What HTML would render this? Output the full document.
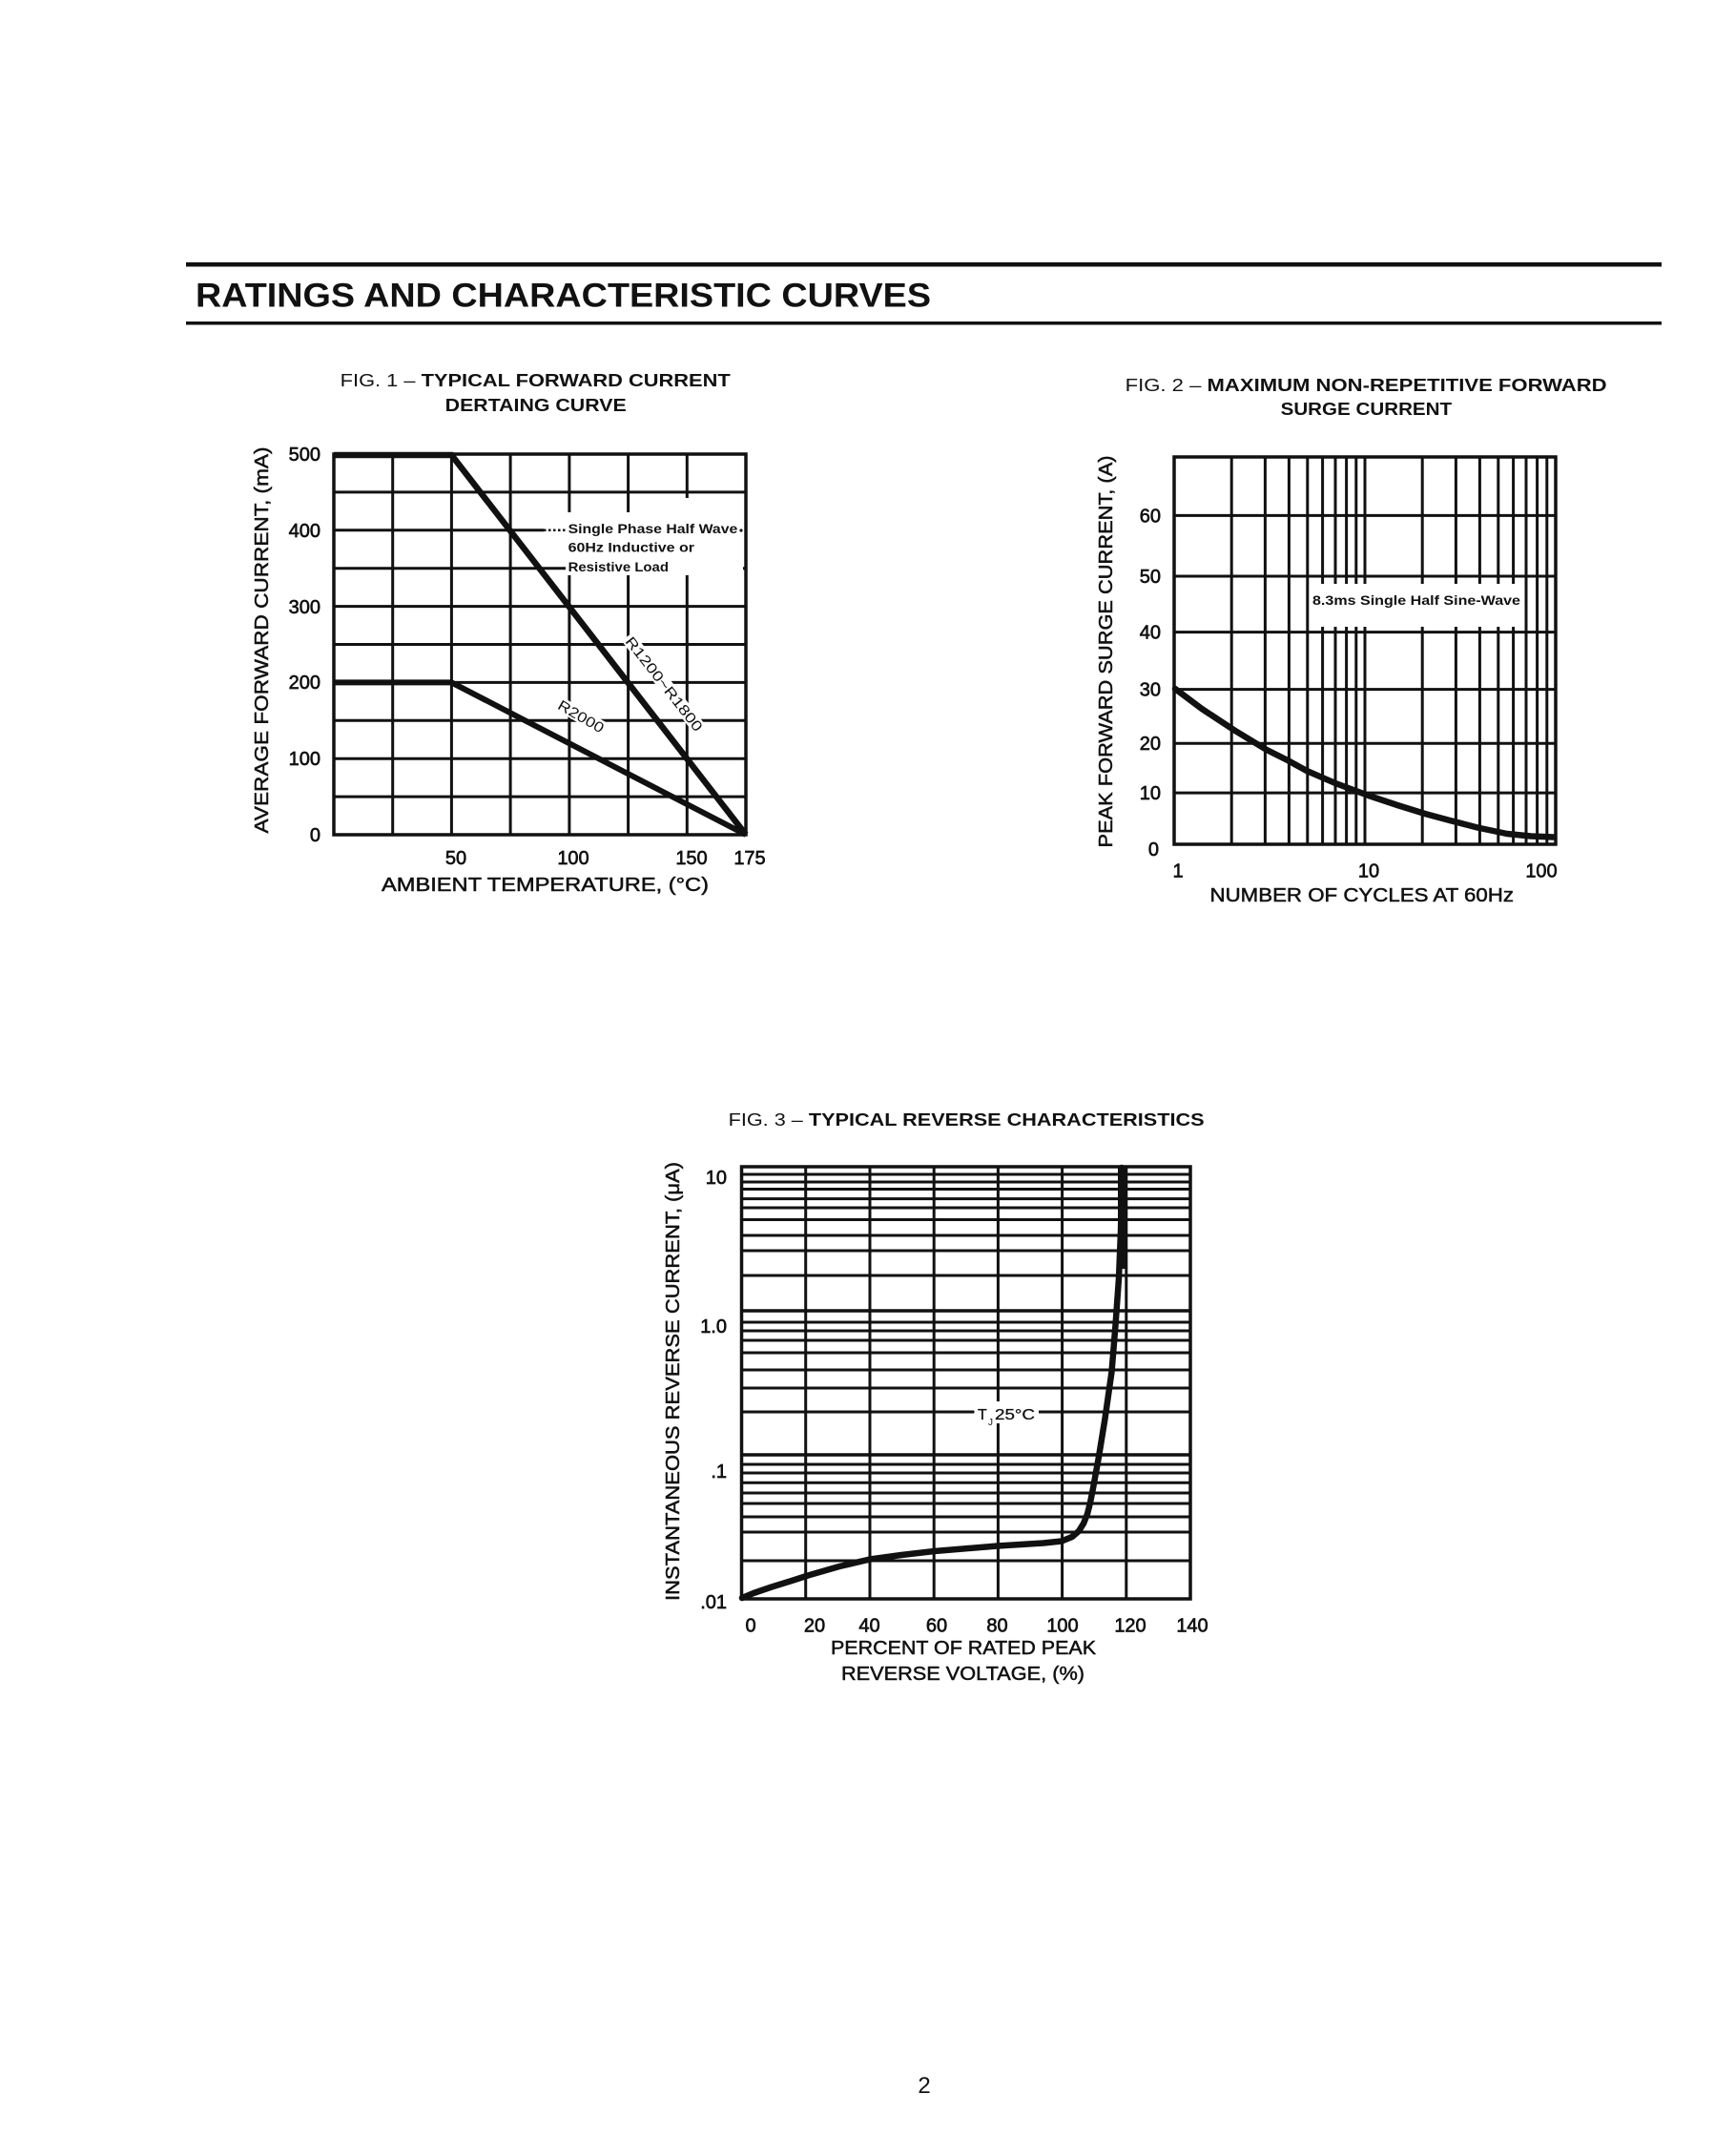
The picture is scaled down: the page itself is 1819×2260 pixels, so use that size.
<!DOCTYPE html>
<html>
<head>
<meta charset="utf-8">
<style>
  html, body { margin: 0; padding: 0; background: #fff; }
  svg { display: block; }
  text { font-family: "Liberation Sans", Arial, sans-serif; fill: #111; }
  .tk { font-size: 20px; stroke: #111; stroke-width: 0.65; }
  .ax { font-size: 20px; stroke: #111; stroke-width: 0.5; }
  .ti { font-size: 18px; }
  .lg { font-size: 14px; font-weight: bold; }
</style>
</head>
<body>
<svg xmlns="http://www.w3.org/2000/svg" width="1819" height="2260" viewBox="0 0 1819 2260">
  <rect x="0" y="0" width="1819" height="2260" fill="#fff"/>

  <!-- Header -->
  <rect x="195" y="275" width="1547" height="4.5" fill="#111"/>
  <rect x="195" y="337" width="1547" height="3.5" fill="#111"/>
  <text x="205" y="321.7" font-size="35" font-weight="bold" textLength="771" lengthAdjust="spacingAndGlyphs">RATINGS AND CHARACTERISTIC CURVES</text>

  <!-- ================= FIG 1 ================= -->
  <text class="ti" x="356.7" y="405" textLength="409" lengthAdjust="spacingAndGlyphs"><tspan>FIG. 1 – </tspan><tspan font-weight="bold">TYPICAL FORWARD CURRENT</tspan></text>
  <text class="ti" x="466.7" y="431" font-weight="bold" textLength="190" lengthAdjust="spacingAndGlyphs">DERTAING CURVE</text>

  <g stroke="#111" stroke-width="3" fill="none">
    <path d="M411.7 476V875M473.4 476V875M535.1 476V875M596.9 476V875M658.6 476V875M720.3 476V875"/>
    <path d="M350 515.9H782M350 595.7H782M350 635.6H782M350 675.5H782M350 715.4H782M350 755.3H782M350 795.2H782M350 835.1H782"/>
    <path d="M350 555.8H570"/>
    <path d="M570 555.8H593" stroke-dasharray="2.5 2.5" stroke-width="2.5"/>
    <rect x="350" y="476" width="432" height="399" stroke-width="3.5"/>
  </g>
  <!-- legend white area -->
  <rect x="593" y="537" width="186" height="66" fill="#fff"/>
  <rect x="715" y="522" width="10" height="16" fill="#fff"/>
  <text class="lg" x="595.6" y="559" textLength="177.7" lengthAdjust="spacingAndGlyphs">Single Phase Half Wave</text>
  <text class="lg" x="595.6" y="578.5" textLength="132.4" lengthAdjust="spacingAndGlyphs">60Hz Inductive or</text>
  <text class="lg" x="595.6" y="599" textLength="105.4" lengthAdjust="spacingAndGlyphs">Resistive Load</text>
  <circle cx="777" cy="556" r="1.6" fill="#111"/>

  <!-- data lines -->
  <g stroke="#111" fill="none" stroke-linejoin="miter">
    <path d="M350 477H473.4L782 875" stroke-width="6.5"/>
    <path d="M350 715.4H473.4L782 875" stroke-width="6"/>
  </g>

  <!-- curve labels -->
  <g transform="translate(693.7,719) rotate(52)">
    <rect x="-63" y="-11" width="126" height="15" fill="#fff"/>
    <text x="0" y="2" text-anchor="middle" font-size="15" textLength="121" lengthAdjust="spacingAndGlyphs">R1200~R1800</text>
  </g>
  <g transform="translate(607.6,753.8) rotate(30)">
    <rect x="-29" y="-11" width="58" height="15" fill="#fff"/>
    <text x="0" y="2" text-anchor="middle" font-size="15" textLength="53" lengthAdjust="spacingAndGlyphs">R2000</text>
  </g>

  <!-- y ticks -->
  <g class="tk" text-anchor="end">
    <text x="336" y="483">500</text>
    <text x="336" y="563">400</text>
    <text x="336" y="643">300</text>
    <text x="336" y="722">200</text>
    <text x="336" y="802">100</text>
    <text x="336" y="882">0</text>
  </g>
  <!-- x ticks -->
  <g class="tk" text-anchor="middle">
    <text x="478" y="906">50</text>
    <text x="601" y="906">100</text>
    <text x="725" y="906">150</text>
    <text x="786" y="906">175</text>
  </g>
  <text class="ax" x="400" y="934" textLength="343" lengthAdjust="spacingAndGlyphs">AMBIENT TEMPERATURE, (°C)</text>
  <g transform="translate(274,671) rotate(-90)">
    <text class="ax" x="0" y="7" text-anchor="middle" textLength="405" lengthAdjust="spacingAndGlyphs">AVERAGE FORWARD CURRENT, (mA)</text>
  </g>

  <!-- ================= FIG 2 ================= -->
  <text class="ti" x="1179.6" y="410" textLength="505" lengthAdjust="spacingAndGlyphs"><tspan>FIG. 2 – </tspan><tspan font-weight="bold">MAXIMUM NON-REPETITIVE FORWARD</tspan></text>
  <text class="ti" x="1342.6" y="435" font-weight="bold" textLength="179.5" lengthAdjust="spacingAndGlyphs">SURGE CURRENT</text>

  <g stroke="#111" stroke-width="3" fill="none">
    <path d="M1291.2 479V885M1326.4 479V885M1351.4 479V885M1370.8 479V885M1386.6 479V885M1400 479V885M1411.6 479V885M1421.8 479V885M1431 479V885M1491.2 479V885M1526.4 479V885M1551.4 479V885M1570.8 479V885M1586.6 479V885M1600 479V885M1611.6 479V885M1621.8 479V885"/>
    <path d="M1231 540.4H1631M1231 604H1631M1231 662.6H1631M1231 722.6H1631M1231 779.3H1631M1231 831.1H1631"/>
    <rect x="1231" y="479" width="400" height="406" stroke-width="3.5"/>
  </g>
  <rect x="1373" y="612" width="224" height="45" fill="#fff"/>
  <text class="lg" x="1376" y="634" textLength="218" lengthAdjust="spacingAndGlyphs">8.3ms Single Half Sine-Wave</text>

  <polyline fill="none" stroke="#111" stroke-width="6.5" stroke-linejoin="round" stroke-linecap="round"
    points="1232,722 1260,743 1295,766 1328,786 1350,797 1370,808 1400,821 1435,834 1465,844 1494,853 1520,860 1549,867.5 1580,874 1605,876.5 1629,877.5"/>

  <g class="tk" text-anchor="end">
    <text x="1217" y="547.5">60</text>
    <text x="1217" y="611">50</text>
    <text x="1217" y="669.5">40</text>
    <text x="1217" y="729.5">30</text>
    <text x="1217" y="786">20</text>
    <text x="1217" y="838">10</text>
    <text x="1215" y="897">0</text>
  </g>
  <g class="tk" text-anchor="middle">
    <text x="1235" y="919.5">1</text>
    <text x="1435" y="919.5">10</text>
    <text x="1616" y="919.5">100</text>
  </g>
  <text class="ax" x="1268.5" y="945" textLength="318.5" lengthAdjust="spacingAndGlyphs">NUMBER OF CYCLES AT 60Hz</text>
  <g transform="translate(1159,683) rotate(-90)">
    <text class="ax" x="0" y="7" text-anchor="middle" textLength="411" lengthAdjust="spacingAndGlyphs">PEAK FORWARD SURGE CURRENT, (A)</text>
  </g>

  <!-- ================= FIG 3 ================= -->
  <text class="ti" x="763.6" y="1180" textLength="499" lengthAdjust="spacingAndGlyphs"><tspan>FIG. 3 – </tspan><tspan font-weight="bold">TYPICAL REVERSE CHARACTERISTICS</tspan></text>

  <g stroke="#111" stroke-width="3" fill="none">
    <path d="M844.7 1223V1676M912 1223V1676M979.2 1223V1676M1046.4 1223V1676M1113.6 1223V1676M1180.8 1223V1676"/>
    <path d="M777.5 1231H1248M777.5 1239H1248M777.5 1246.5H1248M777.5 1256.6H1248M777.5 1266H1248M777.5 1278.5H1248M777.5 1295H1248M777.5 1311H1248M777.5 1337H1248"/>
    <path d="M777.5 1374H1248" stroke-width="3.5"/>
    <path d="M777.5 1386H1248M777.5 1395H1248M777.5 1405H1248M777.5 1418H1248M777.5 1436H1248M777.5 1455H1248M777.5 1480H1248"/>
    <path d="M777.5 1525H1248" stroke-width="3.5"/>
    <path d="M777.5 1535H1248M777.5 1544H1248M777.5 1554.3H1248M777.5 1565H1248M777.5 1576H1248M777.5 1590H1248M777.5 1606H1248M777.5 1636H1248"/>
    <rect x="777.5" y="1223" width="470.5" height="453" stroke-width="3.5"/>
  </g>
  <rect x="1021" y="1469" width="68" height="23" fill="#fff"/>
  <circle cx="1020" cy="1480" r="1.6" fill="#111"/>
  <text x="1025" y="1488" font-size="16" stroke="#111" stroke-width="0.3">T</text>
  <text x="1036" y="1494" font-size="10">J</text>
  <text x="1043" y="1488" font-size="16" stroke="#111" stroke-width="0.3" textLength="42" lengthAdjust="spacingAndGlyphs">25°C</text>

  <polyline fill="none" stroke="#111" stroke-width="6.5" stroke-linejoin="round" stroke-linecap="round"
    points="778,1675 790,1670 809,1663.5 830,1657 847,1651.5 880,1642 912,1634.5 945,1630 979.5,1626 1046,1620.5 1094,1617.5 1113,1615.5 1124,1611 1131,1605 1136,1597 1140,1587 1143,1575 1146,1560 1152,1527 1158.5,1487 1165.5,1438 1169.5,1389 1173,1340 1175,1291 1176,1250 1176,1224"/>
  <path d="M1176 1224V1330" stroke="#111" stroke-width="8" fill="none"/>

  <g class="tk" text-anchor="end">
    <text x="762" y="1241">10</text>
    <text x="762" y="1397">1.0</text>
    <text x="762" y="1549">.1</text>
    <text x="762" y="1686">.01</text>
  </g>
  <g class="tk" text-anchor="middle">
    <text x="787" y="1710.5">0</text>
    <text x="854" y="1710.5">20</text>
    <text x="911.5" y="1710.5">40</text>
    <text x="982" y="1710.5">60</text>
    <text x="1045.5" y="1710.5">80</text>
    <text x="1114" y="1710.5">100</text>
    <text x="1185" y="1710.5">120</text>
    <text x="1250" y="1710.5">140</text>
  </g>
  <text class="ax" x="871" y="1734" textLength="278" lengthAdjust="spacingAndGlyphs">PERCENT OF RATED PEAK</text>
  <text class="ax" x="882" y="1761" textLength="255" lengthAdjust="spacingAndGlyphs">REVERSE VOLTAGE, (%)</text>
  <g transform="translate(705,1448) rotate(-90)">
    <text class="ax" x="0" y="7" text-anchor="middle" textLength="460" lengthAdjust="spacingAndGlyphs">INSTANTANEOUS REVERSE CURRENT, (μA)</text>
  </g>

  <!-- page number -->
  <text x="969" y="2194" font-size="24" text-anchor="middle">2</text>
</svg>
</body>
</html>
